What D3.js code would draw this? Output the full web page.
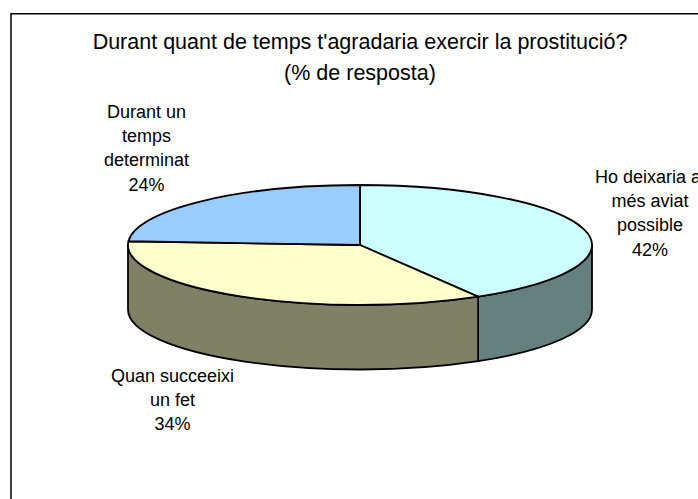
<!DOCTYPE html>
<html><head><meta charset="utf-8">
<script src="https://cdn.jsdelivr.net/npm/d3@7"></script>
<style>html,body{margin:0;background:#fff;overflow:hidden}svg{display:block}text{font-family:"Liberation Sans",Arial,sans-serif;fill:#000}</style>
</head><body><div id="c"></div>
<script>
const categories = ["Ho deixaria al més aviat possible","Quan succeeixi un fet","Durant un temps determinat"];
const values = [41.5,34.5,24];
const topColors = ["#CCFFFF","#FFFFCC","#99CCFF"];
const wallColors = ["#668080","#808066","#4D6680"];
const titleLines = ["Durant quant de temps t'agradaria exercir la prostitució?","(% de resposta)"];
const labelLines = [["Ho deixaria al","més aviat","possible","42%"],["Quan succeeixi","un fet","34%"],["Durant un","temps","determinat","24%"]];
const labelPos = [[650,183],[172.5,382],[146.5,118]];

const W=698,H=499,cx=360,cy=245,rx=232,ry=60,depth=64.5;
const svg=d3.select("#c").append("svg").attr("width",W).attr("height",H);
svg.append("path").attr("d",`M11,${H}V13.7H${W}`).attr("fill","none").attr("stroke","#000").attr("stroke-width",1.5);
const arcs=d3.pie().sort(null).value(d=>d)(values);
const pt=(a,dy=0)=>[cx+rx*Math.sin(a),cy-ry*Math.cos(a)+dy];
// side walls (front half only)
const lo=Math.PI/2,hi=3*Math.PI/2;
const walls=svg.append("g");
arcs.forEach((d,i)=>{
  const a=Math.max(d.startAngle,lo),b=Math.min(d.endAngle,hi);
  if(b<=a) return;
  const p0=pt(a),p1=pt(b),q1=pt(b,depth),q0=pt(a,depth);
  walls.append("path").attr("d",`M${p0}A${rx},${ry} 0 0 1 ${p1}L${q1}A${rx},${ry} 0 0 0 ${q0}Z`)
   .attr("fill",wallColors[i]).attr("stroke","#000").attr("stroke-width",1.8).attr("stroke-linejoin","round");
});
// top faces
const arc=d3.arc().innerRadius(0).outerRadius(rx);
svg.append("g").attr("transform",`translate(${cx},${cy}) scale(1,${ry/rx})`)
 .selectAll("path").data(arcs).join("path").attr("d",arc)
 .attr("fill",(d,i)=>topColors[i]).attr("stroke","#000").attr("stroke-width",1.8)
 .attr("vector-effect","non-scaling-stroke").attr("stroke-linejoin","round");
// title
svg.append("g").selectAll("text").data(titleLines).join("text")
 .attr("x",360).attr("y",(d,i)=>49+i*31).attr("text-anchor","middle").attr("font-size",21.5).text(d=>d);
// labels
labelLines.forEach((ls,i)=>{
 svg.append("g").selectAll("text").data(ls).join("text")
  .attr("x",labelPos[i][0]).attr("y",(d,j)=>labelPos[i][1]+j*24.2).attr("text-anchor","middle").attr("font-size",18).text(d=>d);
});
</script></body></html>
